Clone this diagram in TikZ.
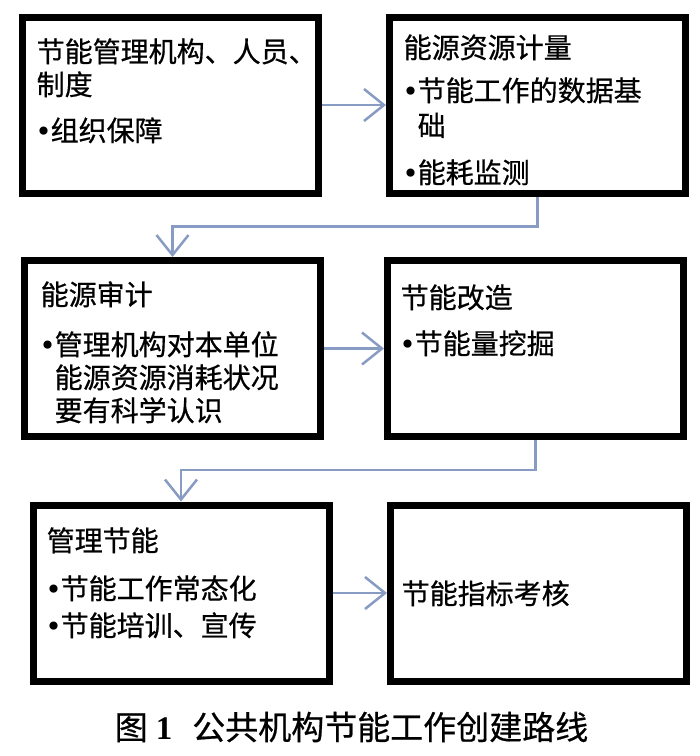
\documentclass[tikz,border=0pt]{standalone}
\usepackage{fontspec}
\setmainfont{Noto Sans CJK SC}[FakeBold=0.6]
\newfontfamily\numfont{Liberation Serif}
\newfontfamily\dotfont{DejaVu Sans}
\usetikzlibrary{arrows.meta}
\definecolor{linkblue}{RGB}{135,155,195}
\newcommand\bul{\makebox[14pt][c]{\dotfont •}}
\newcommand\ind{\hspace*{14pt}}
\begin{document}
\begin{tikzpicture}[x=1pt,y=-1pt,
		box/.style={draw=black,line width=7pt,minimum width=296pt,minimum height=176pt,inner sep=0pt},
		txt/.style={anchor=base west,inner sep=0pt,text width=300pt,align=left,font=\fontsize{28}{33}\selectfont},
		link/.style={draw=linkblue,line width=2.5pt,-{Straight Barb[length=20pt,width=32pt]}}]
		\useasboundingbox (0,0) rectangle (700,756);
		% boxes
		\node [box] (b1) at (170,105) {};
		\node [box] (b2) at (537.5,105) {};
		\node [box] (b3) at (172.5,348.5) {};
		\node [box] (b4) at (535.5,348.5) {};
		\node [box] (b5) at (181,593) {};
		\node [box] (b6) at (538.5,593) {};
		% texts
		\node [txt] (t1) at (36.5,62) {节能管理机构、人员、\\制度\\[13pt]\bul 组织保障};
		\node [txt] (t2) at (403.5,58) {能源资源计量\\[10pt]\bul 节能工作的数据基\\[2pt]\ind 础\\[14pt]\bul 能耗监测};
		\node [txt] (t3) at (40.5,305) {能源审计\\[17pt]\bul 管理机构对本单位\\\ind 能源资源消耗状况\\\ind 要有科学认识};
		\node [txt] (t4) at (400.5,308) {节能改造\\[13pt]\bul 节能量挖掘};
		\node [txt] (t5) at (46.5,551) {管理节能\\[15pt]\bul 节能工作常态化\\[4pt]\bul 节能培训、宣传};
		\node [txt] (t6) at (401.5,604) {节能指标考核};
		% connectors
		\draw [link] (b1.east) -- (b2.west);
		\draw [link] (b2.south) -- ++(0,30) -| (b3.north);
		\draw [link] (b3.east) -- (b4.west);
		\draw [link] (b4.south) -- ++(0,30) -| (b5.north);
		\draw [link] (b5.east) -- (b6.west);
		% caption
		\node [font=\fontsize{33}{36}\selectfont] (cap) at (351.5,727) {图\hspace{8pt}{\numfont\bfseries 1}\hspace{20pt}公共机构节能工作创建路线};
	\end{tikzpicture}
\end{document}
